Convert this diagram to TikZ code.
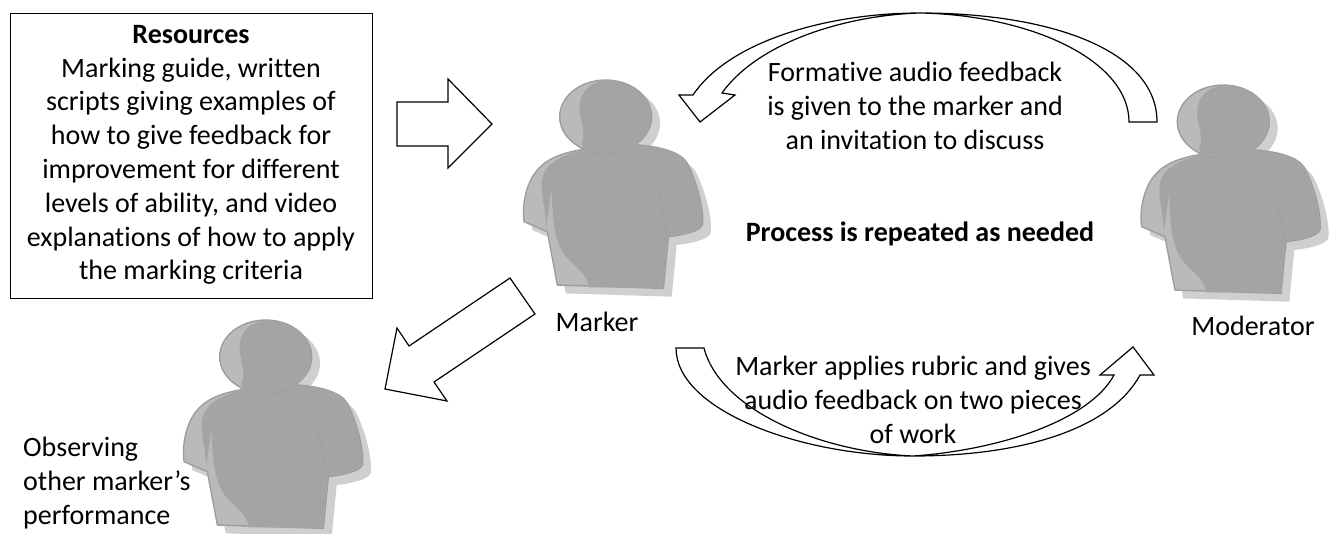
\documentclass[tikz,border=0pt]{standalone}
\usepackage{fontspec}
\setmainfont[Ligatures=CommonOff]{Carlito}
\definecolor{pshadow}{HTML}{CFCFCF}
\definecolor{plight}{HTML}{BABABA}
\definecolor{pmain}{HTML}{A4A4A4}
\definecolor{pedge}{HTML}{9E9E9E}
\tikzset{
  blockarrow/.style={draw=black,fill=white,line width=1.2pt,line join=miter},
  label/.style={align=center,font=\fontsize{28}{33.8}\selectfont,inner sep=0pt},
  person/.pic={
    \begin{scope}[scale=1/3]
      \def\bodypath{(-80,100) .. controls (-140,112) and (-195,130) .. (-225,190) .. controls (-245,230) and (-250,280) .. (-245,315) -- (-175,345) -- (-145,505) -- (173,515) -- (188,360) .. controls (230,355) and (280,345) .. (290,325) .. controls (295,290) and (280,210) .. (245,140) .. controls (225,105) and (160,90) .. (100,85) -- cycle}
      \fill[pshadow,shift={(25,25)}] \bodypath;
      \fill[pshadow] (25,20) ellipse [x radius=138,y radius=110];
      \fill[plight,draw=pedge,line width=1.4pt,line join=round] \bodypath;
      \fill[pmain] (-87,104) .. controls (-150,125) and (-195,150) .. (-192,210) .. controls (-190,260) and (-175,300) .. (-180,338) -- (-162,215) .. controls (-160,330) and (-150,390) .. (-110,430) .. controls (-80,460) and (-52,480) .. (-52,512) -- (171,513) -- (186,358) .. controls (230,353) and (278,343) .. (288,323) .. controls (293,290) and (278,210) .. (243,142) .. controls (223,107) and (160,92) .. (100,87) -- cycle;
      \draw[pedge,line width=0.8pt] (158,222) .. controls (170,280) and (178,320) .. (183,360);
      \fill[plight,draw=pedge,line width=1.4pt] (0,0) ellipse [x radius=138,y radius=110];
      \begin{scope}
        \clip (0,0) ellipse [x radius=136,y radius=108];
        \fill[pmain] (0,-110) .. controls (-60,-100) and (-85,-60) .. (-77,-10) .. controls (-72,30) and (-60,50) .. (-72,78) -- (-60,115) -- (140,115) -- (140,-115) -- cycle;
      \end{scope}
    \end{scope}
  }
}
\begin{document}
\begin{tikzpicture}[x=1pt,y=-1pt]
\useasboundingbox (0,0) rectangle (1338,533);
\fill[white] (0,0) rectangle (1338,533);
% people
\pic at (605.7,116.7) {person};
\pic at (1223.3,121.7) {person};
\pic at (265.7,356.7) {person};
% resources box
\node[draw=black,line width=1pt,minimum width=362pt,minimum height=285pt,inner sep=0pt,anchor=north west] (box) at (10,13) {};
\node[label] (res) at (191,155) {\textbf{Resources}\\Marking guide, written\\scripts giving examples of\\how to give feedback for\\improvement for different\\levels of ability, and video\\explanations of how to apply\\the marking criteria};
% block arrows
\draw[blockarrow] (397,102) -- (448,102) -- (448,79) -- (492,124) -- (448,168) -- (448,146) -- (397,146) -- cycle;
\draw[blockarrow] (510,278) -- (535,314) -- (434,382) -- (447,401) -- (385,389) -- (397,328) -- (409,346) -- cycle;
% top curved arrow
\draw[blockarrow] (1157,122) .. controls (1157,50) and (1050,13) .. (920,13) .. controls (830,13) and (730,40) .. (693,95) -- (679,95) -- (700,122) -- (735,95) -- (722,93) .. controls (760,40) and (850,15) .. (920,13) .. controls (1030,15) and (1129,60) .. (1129,122) -- cycle;
% bottom curved arrow
\draw[blockarrow] (676,348) .. controls (676,410) and (800,456) .. (913,456) .. controls (1020,456) and (1110,430) .. (1140,375) -- (1154,375) -- (1133,347) -- (1100,375) -- (1114,375) .. controls (1090,420) and (1000,450) .. (913,456) .. controls (820,452) and (720,410) .. (704,348) -- cycle;
% labels
\node[label] (fb) at (915,106) {Formative audio feedback\\is given to the marker and\\an invitation to discuss};
\node[label] (rub) at (913,400) {Marker applies rubric and gives\\audio feedback on two pieces\\of work};
\node[label] (proc) at (920,234) {\textbf{Process is repeated as needed}};
\node[label] (mk) at (597,322) {Marker};
\node[label] (md) at (1253,326) {Moderator};
\node[label,align=left,anchor=west] (obs) at (23,483) {Observing\\other marker’s\\performance};
\end{tikzpicture}
\end{document}
